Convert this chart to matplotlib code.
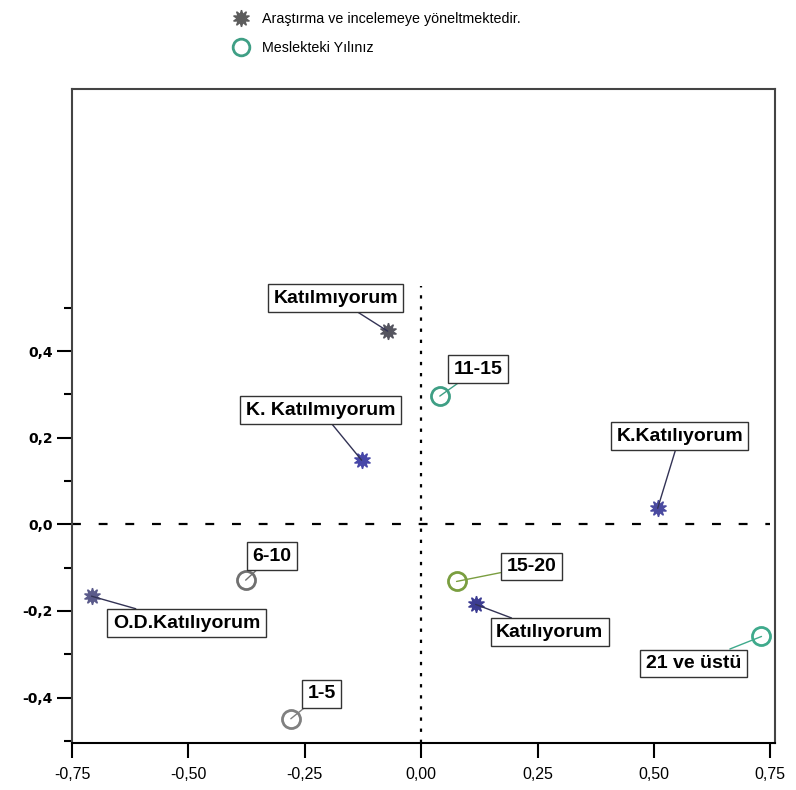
import matplotlib.pyplot as plt
from matplotlib.lines import Line2D
from matplotlib.ticker import FixedLocator, FuncFormatter

# data
agree_labels = ["Katılmıyorum", "K. Katılmıyorum", "K.Katılıyorum", "Katılıyorum", "O.D.Katılıyorum"]
agree_x = [-0.072, -0.128, 0.508, 0.117, -0.708]
agree_y = [0.446, 0.148, 0.037, -0.185, -0.166]

years_labels = ["11-15", "6-10", "15-20", "21 ve üstü", "1-5"]
years_x = [0.040, -0.377, 0.076, 0.731, -0.280]
years_y = [0.296, -0.129, -0.132, -0.259, -0.449]

x_ticks = [-0.75, -0.50, -0.25, 0.00, 0.25, 0.50, 0.75]
y_ticks = [-0.4, -0.2, 0.0, 0.2, 0.4]
y_minor = [-0.5, -0.3, -0.1, 0.1, 0.3, 0.5]

# styling / layout
agree_colors = ["#55555f", "#4646a8", "#4a4aa0", "#3c3c92", "#5a5a8a"]
years_colors = ["#3f9f85", "#707070", "#7a9e40", "#3faa8c", "#808080"]
# label offsets in pixels (label centre relative to point)
agree_offsets = [(-52, 33), (-41, 50), (22, 72), (74, -28), (95, -27)]
years_offsets = [(38, 27), (26, 24), (75, 15), (-68, -27), (31, 25)]

STAR = (10, 1, 0)

fig = plt.figure(figsize=(7.96, 7.90), dpi=100)
ax = fig.add_axes([72 / 796, 1 - 743 / 790, 703 / 796, 654 / 790])
ax.set_xlim(-0.75, 0.76)
ax.set_ylim(-0.505, 1.005)

# reference lines
ax.plot([-0.75, 0.75], [0, 0], color="black", lw=1.6, dashes=(4, 8), zorder=1)
ax.plot([0, 0], [-0.505, 0.55], color="black", lw=1.6, dashes=(1.5, 3.5), zorder=1)

bbox = dict(boxstyle="square,pad=0.28", fc="white", ec="#333333", lw=1.0)

for lab, x, y, c, off in zip(agree_labels, agree_x, agree_y, agree_colors, agree_offsets):
    ax.plot(x, y, marker=STAR, ms=12, color=c, mec=c, ls="none", zorder=3)
    ax.annotate(lab, xy=(x, y), xytext=off, textcoords="offset pixels",
                ha="center", va="center", fontsize=14, fontweight="bold",
                family="Liberation Sans", bbox=bbox, zorder=4,
                arrowprops=dict(arrowstyle="-", color="#333355", lw=1.0,
                                shrinkA=0, shrinkB=0))

for lab, x, y, c, off in zip(years_labels, years_x, years_y, years_colors, years_offsets):
    ax.plot(x, y, marker="o", ms=13, mfc="white", mec=c, mew=2, ls="none", zorder=3)
    ax.annotate(lab, xy=(x, y), xytext=off, textcoords="offset pixels",
                ha="center", va="center", fontsize=14, fontweight="bold",
                family="Liberation Sans", bbox=bbox, zorder=4,
                arrowprops=dict(arrowstyle="-", color=c, lw=1.0,
                                shrinkA=0, shrinkB=0))

# axes frame and ticks
for s in ax.spines.values():
    s.set_color("#444444")
    s.set_linewidth(1.5)
ax.spines["bottom"].set_color("black")

ax.set_xticks(x_ticks)
ax.xaxis.set_major_formatter(FuncFormatter(lambda v, p: f"{v:.2f}".replace(".", ",")))
ax.yaxis.set_major_locator(FixedLocator(y_ticks))
ax.yaxis.set_minor_locator(FixedLocator(y_minor))
ax.yaxis.set_major_formatter(FuncFormatter(lambda v, p: f"{v:.1f}".replace(".", ",")))

ax.tick_params(axis="x", direction="out", length=11, width=1.5, pad=6,
               labelsize=11.5, colors="black")
ax.tick_params(axis="y", which="major", direction="out", length=11, width=1.5, pad=3)
ax.tick_params(axis="y", which="minor", direction="out", length=6, width=1.5)
for t in ax.get_xticklabels():
    t.set_family("Liberation Sans")
for t in ax.get_yticklabels():
    t.set_family("DejaVu Sans")
    t.set_fontweight("bold")
    t.set_fontsize(10)

# legend at top
handles = [
    Line2D([], [], marker=STAR, ms=12, color="#5c5c5c", ls="none"),
    Line2D([], [], marker="o", ms=12, mfc="white", mec="#3f9f85", mew=2, ls="none"),
]
fig.legend(handles, ["Araştırma ve incelemeye yöneltmektedir.", "Meslekteki Yılınız"],
           loc="upper left", bbox_to_anchor=(228 / 796, 1 - 8 / 790), frameon=False,
           prop={"family": "Liberation Sans", "size": 10.3}, handlelength=1.2,
           handletextpad=0.9, labelspacing=1.0, borderaxespad=0, borderpad=0.3)

fig.savefig("out.png", dpi=100)
